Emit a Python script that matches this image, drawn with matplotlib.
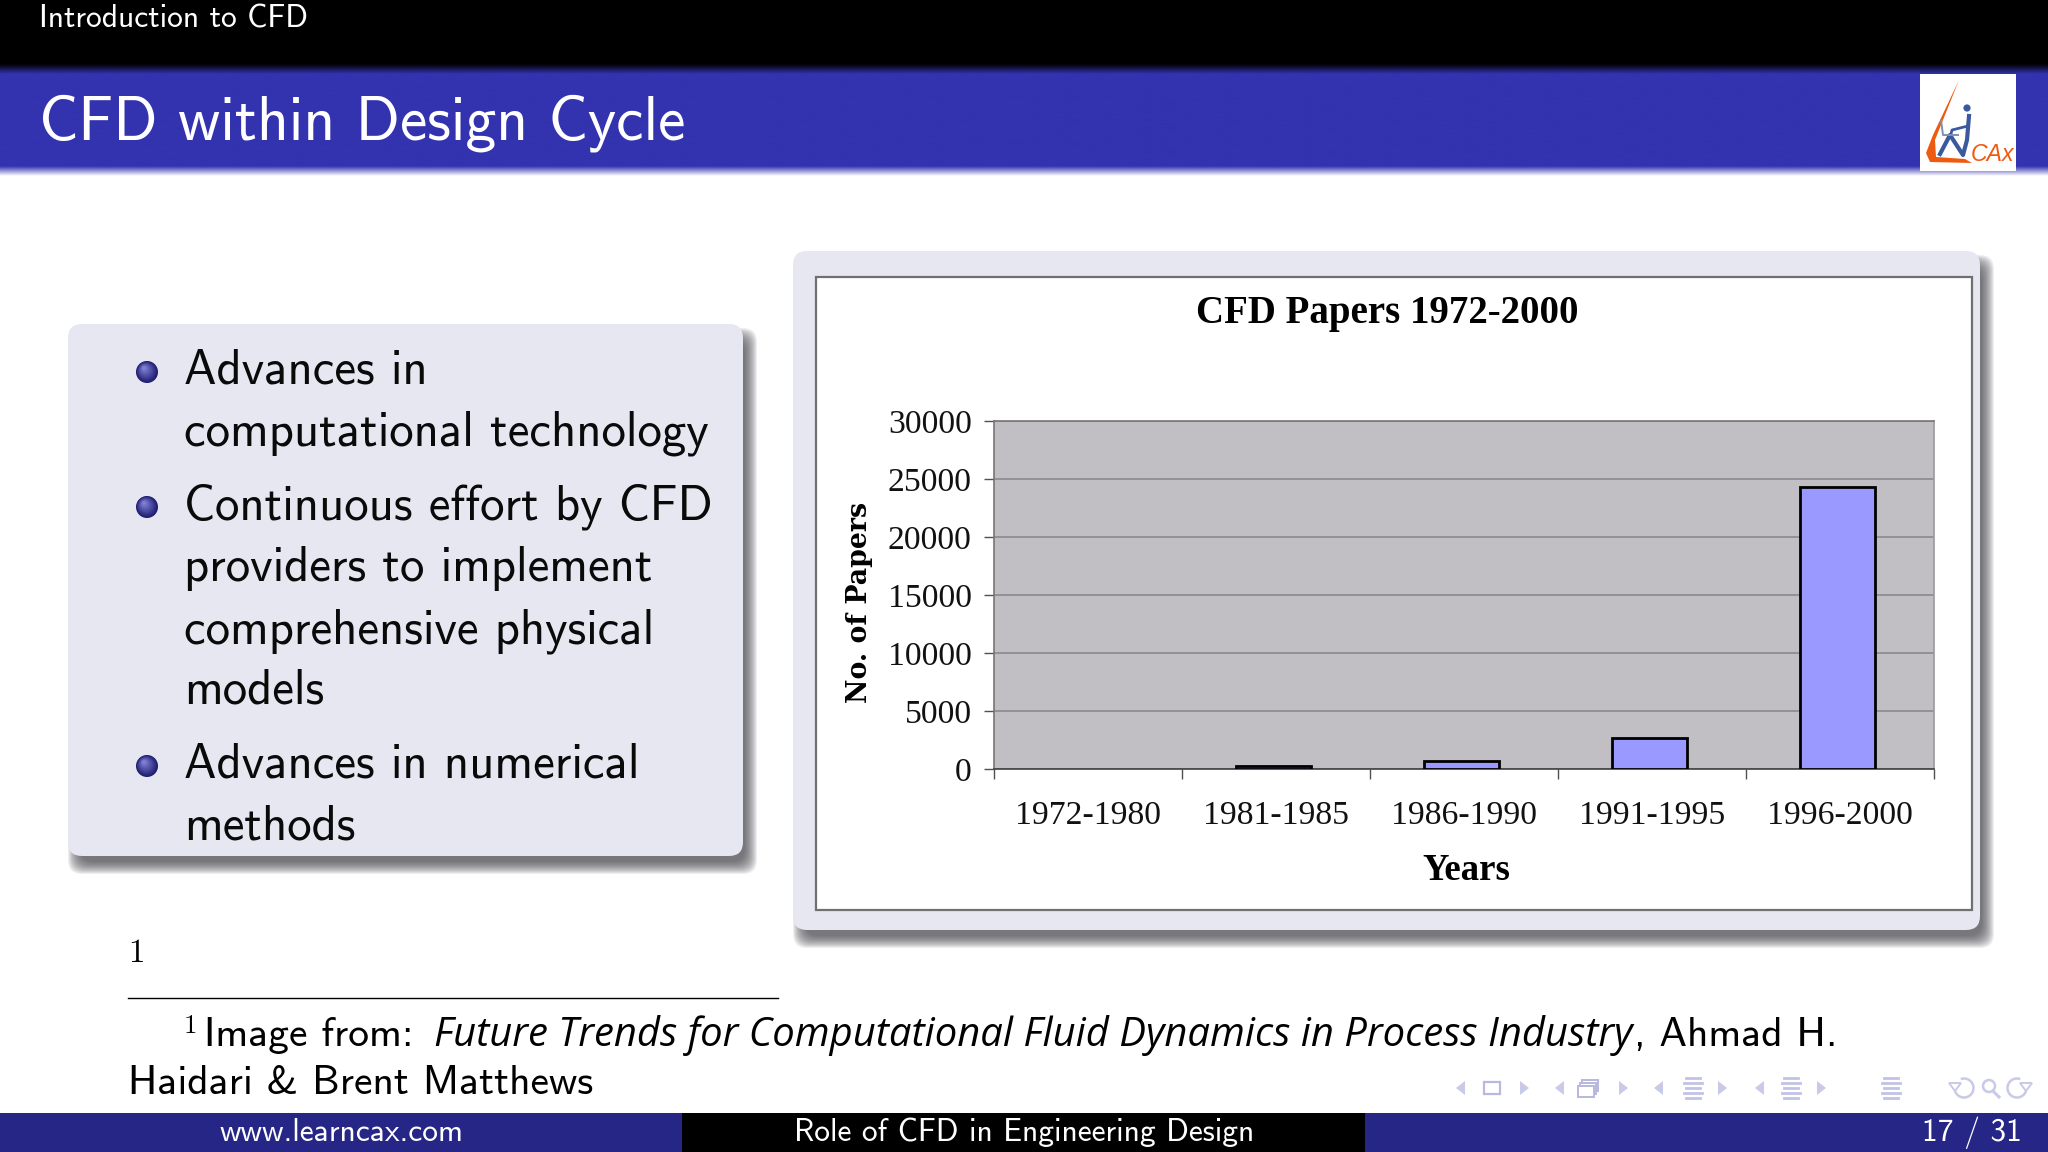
import numpy as np
import matplotlib
matplotlib.use("Agg")
import matplotlib.pyplot as plt
from matplotlib.patches import FancyBboxPatch, Rectangle, Polygon, Circle, Arc
from matplotlib.colors import to_rgb

# ---- chart data ----
categories = ["1972-1980", "1981-1985", "1986-1990", "1991-1995", "1996-2000"]
papers = [0, 250, 650, 2700, 24300]
y_ticks = [0, 5000, 10000, 15000, 20000, 25000, 30000]
chart_title = "CFD Papers 1972-2000"
x_title = "Years"
y_title = "No. of Papers"

# ---- slide text ----
header_small = "Introduction to CFD"
slide_title = "CFD within Design Cycle"
body_lines = ["Advances in", "computational technology", "Continuous effort by CFD",
              "providers to implement", "comprehensive physical", "models",
              "Advances in numerical", "methods"]
body_baselines = [384, 446, 520, 581, 643, 703, 778, 840]
bullet_rows = [372, 507, 766]
footer_left = "www.learncax.com"
footer_mid = "Role of CFD in Engineering Design"
footer_right = "17 / 31"

W, H = 2048, 1152
SANS = "cmss10"
SERIF = "Liberation Serif"
plt.rcParams["axes.unicode_minus"] = False
PX = 0.72  # points per pixel at dpi=100

fig = plt.figure(figsize=(W / 100, H / 100), dpi=100, facecolor="white")
bg = fig.add_axes([0, 0, 1, 1])
bg.set_axis_off()


def vgrad(y0, y1, c0, c1, x0=0, x1=W):
    a = np.linspace(0, 1, 32)[:, None, None]
    img = (1 - a) * np.array(to_rgb(c0))[None, None, :] + a * np.array(to_rgb(c1))[None, None, :]
    bg.imshow(img, extent=[x0, x1, y1, y0], aspect="auto", zorder=1, interpolation="bilinear")


def block(x0, y0, x1, y1, face="#e7e7f2"):
    r = 14
    for d in np.linspace(7, -5, 13):
        s = FancyBboxPatch((x0 + 7 - d + r, y0 + 11 - d + r), x1 - x0 + 2 * d - 2 * r, y1 - y0 + 2 * d - 2 * r,
                           boxstyle=f"round,pad={r}", fc="#404048", ec="none", alpha=0.085, zorder=2)
        bg.add_patch(s)
    bg.add_patch(FancyBboxPatch((x0 + r, y0 + r), x1 - x0 - 2 * r, y1 - y0 - 2 * r,
                                boxstyle=f"round,pad={r}", fc=face, ec="none", zorder=3))


def txt(x, y, s, size_px, color="black", family=SANS, **kw):
    kw.setdefault("va", "baseline")
    return bg.text(x, y, s, fontsize=size_px * PX, color=color, family=family, zorder=6, **kw)


# ---- header and footer bands ----
vgrad(0, 64, "#000000", "#000000")
vgrad(64, 74, "#000000", "#3333b0")
vgrad(74, 166, "#3333b0", "#3333b0")
vgrad(166, 176, "#3333b0", "#ffffff")
bg.add_patch(Rectangle((0, 1113), 682, 39, fc="#262686", ec="none", zorder=2))
bg.add_patch(Rectangle((682, 1113), 683, 39, fc="#000000", ec="none", zorder=2))
bg.add_patch(Rectangle((1365, 1113), 683, 39, fc="#262686", ec="none", zorder=2))

txt(39, 28, header_small, 31.5, color="white")
txt(39, 140, slide_title, 61.6, color="white")
txt(341, 1141, footer_left, 31.5, color="white", ha="center")
txt(1024, 1141, footer_mid, 31.5, color="white", ha="center")
txt(2022, 1141, footer_right, 31.5, color="white", ha="right")

# ---- logo ----
bg.add_patch(Rectangle((1920, 74), 96, 97, fc="white", ec="none", zorder=4))
bg.add_patch(Polygon([(1959, 80), (1933, 135), (1926, 153), (1930, 162), (1972, 163), (1965, 159),
                      (1936, 157), (1935, 140)], fc="#ee5a10", ec="none", zorder=5))
bg.add_patch(Circle((1967, 108), 3.6, fc="#3a5aa0", ec="none", zorder=5))
bg.plot([1969, 1968, 1952, 1951], [116, 126, 130, 134], color="#3a5aa0", lw=2.0, zorder=5)
bg.plot([1969, 1967, 1963, 1950, 1940], [116, 140, 155, 135, 154], color="#3a5aa0", lw=3.0, zorder=5)
bg.plot([1941, 1943, 1958], [120, 135, 135], color="#7f8fb0", lw=1.4, zorder=5)
txt(1971, 161, "CAx", 23, color="#ee5a10", family="Liberation Sans", style="italic")

# ---- left block ----
block(68, 324, 743, 856)
for ln, b in zip(body_lines, body_baselines):
    txt(184, b, ln, 48.8, color="#0a0a0a")
for by in bullet_rows:
    for r, c in zip(np.linspace(11, 1.5, 12), np.linspace(0, 1, 12)):
        col = (1 - c) * np.array(to_rgb("#1e1e70")) + c * np.array(to_rgb("#8080d8"))
        bg.add_patch(Circle((147 - 3 * c, by - 4 * c), r, fc=col, ec="none", zorder=5))

# ---- right block with the picture frame ----
block(793, 251, 1980, 930)
bg.add_patch(Rectangle((816, 277), 1156, 633, fc="white", ec="#707070", lw=1.6, zorder=4))

# ---- footnote ----
txt(128, 962, "1", 33, family="cmr10")
bg.plot([128, 778], [998, 998], color="black", lw=1.0, zorder=5)
txt(184, 1033, "1", 27, family="cmr10")
txt(204, 1046, "Image from:", 41.5)
txt(434, 1046, "Future Trends for Computational Fluid Dynamics in Process Industry", 40,
    family="Open Sans", style="italic")
txt(1634, 1046, ", Ahmad H.", 41.5)
txt(128, 1094, "Haidari & Brent Matthews", 41.5)

# ---- navigation symbols ----
NAV = "#c9c9e8"
ny = 1088
for x, d in [(1461, -1), (1524, 1), (1560, -1), (1623, 1), (1659, -1), (1722, 1), (1760, -1), (1821, 1)]:
    bg.add_patch(Polygon([(x + d * 5, ny), (x - d * 4, ny - 7), (x - d * 4, ny + 7)], fc=NAV, ec="none", zorder=5))
bg.add_patch(Rectangle((1484, 1082), 16, 12, fc="none", ec="#b8b8e0", lw=1.6, zorder=5))
for dx, dy in [(4, -6), (2, -3), (0, 0)]:
    bg.add_patch(Rectangle((1578 + dx, 1086 + dy), 16, 11, fc="white", ec="#b8b8e0", lw=1.4, zorder=5))
for x in (1693, 1791, 1891):
    for dy, w in [(-9, 7), (-4, 9), (1, 7), (6, 9), (11, 7)]:
        bg.plot([x - w, x + w], [ny + dy - 1, ny + dy - 1], color="#c2c2e6", lw=2, zorder=5)
bg.add_patch(Arc((1964, 1088), 19, 19, theta1=-110, theta2=160, color=NAV, lw=1.8, zorder=5))
bg.add_patch(Polygon([(1949, 1083), (1961, 1083), (1955, 1091)], fc="none", ec=NAV, lw=1.4, zorder=5))
bg.add_patch(Arc((2017, 1088), 19, 19, theta1=20, theta2=290, color=NAV, lw=1.8, zorder=5))
bg.add_patch(Polygon([(2020, 1083), (2032, 1083), (2026, 1091)], fc="none", ec=NAV, lw=1.4, zorder=5))
bg.add_patch(Circle((1989, 1086), 6, fc="none", ec=NAV, lw=1.8, zorder=5))
bg.plot([1993, 1999], [1091, 1097], color=NAV, lw=2.2, zorder=5)

bg.set_xlim(0, W)
bg.set_ylim(H, 0)

# ---- the chart ----
ax_l, ax_r, ax_t, ax_b = 994, 1934, 421, 769
ax = fig.add_axes([ax_l / W, 1 - ax_b / H, (ax_r - ax_l) / W, (ax_b - ax_t) / H], zorder=5)
ax.set_facecolor("#c1bfc3")
x = np.arange(len(categories))
values = np.array(papers, dtype=float)
shown = values > 0
ax.bar(x[shown] - 0.014, values[shown], width=0.4, color="#9999ff", edgecolor="black", linewidth=2.0, zorder=3)
ax.set_xlim(-0.5, len(categories) - 0.5)
ax.set_ylim(0, 30000)
ax.set_yticks(y_ticks)
ax.yaxis.grid(True, color="#8a8a8e", lw=1.2, zorder=1)
ax.set_axisbelow(True)
ax.set_xticks(np.arange(len(categories) + 1) - 0.5)
ax.set_xticklabels([])
ax.set_xticks(x, labels=categories, minor=True)
ax.tick_params(axis="x", which="major", length=7.5, width=1.0, color="#505050")
ax.tick_params(axis="x", which="minor", length=0, pad=23, labelsize=24.2)
ax.tick_params(axis="y", length=7.5, width=1.0, color="#505050", pad=8.5, labelsize=24.2)
for lab in ax.get_xticklabels(minor=True) + ax.get_yticklabels():
    lab.set_family(SERIF)
    lab.set_color("#111111")
for name, col in [("top", "#777777"), ("right", "#9a9a9a"), ("left", "#777777"), ("bottom", "#404040")]:
    ax.spines[name].set_color(col)
    ax.spines[name].set_linewidth(1.2)
ax.set_title(chart_title, family=SERIF, fontweight="bold", fontsize=28,
             x=(1387 - ax_l) / (ax_r - ax_l), y=1 + (ax_t - 331) / (ax_b - ax_t), va="baseline", color="black")
ax.set_xlabel(x_title, family=SERIF, fontweight="bold", fontsize=26.5, color="black")
ax.xaxis.set_label_coords((1466 - ax_l) / (ax_r - ax_l), -(880 - ax_b) / (ax_b - ax_t))
ax.xaxis.label.set_va("baseline")
ax.set_ylabel(y_title, family="DejaVu Serif", fontweight="bold", fontsize=19.3, color="black")
ax.yaxis.set_label_coords(-(ax_l - 873) / (ax_r - ax_l), (ax_b - 602) / (ax_b - ax_t))

fig.savefig("out.png", dpi=100)
